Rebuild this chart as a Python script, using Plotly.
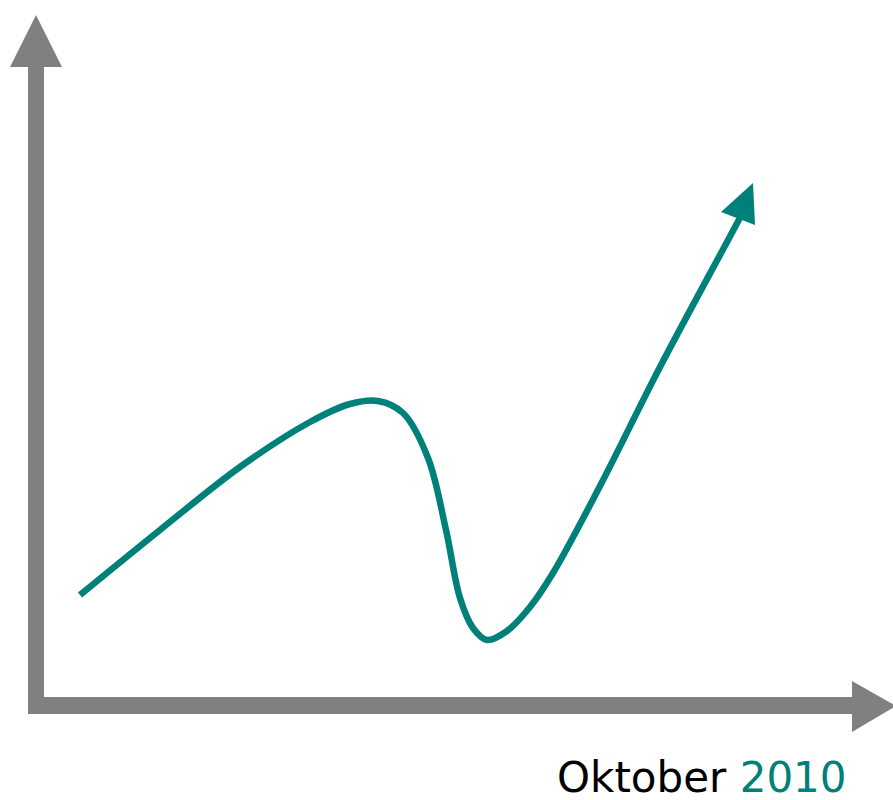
import plotly.graph_objects as go

# Curve (pixel-like coordinates, y grows downward)
curve_x = [80, 160, 240, 310, 350, 378, 403, 428, 446, 460, 473, 487, 507, 530, 553, 600, 660, 727, 742]
curve_y = [595, 530, 467, 422, 404, 401, 413, 458, 530, 598, 628, 640, 631, 607, 573, 486, 367, 242, 214]

# Teal arrow head
head_x = [753, 721, 755]
head_y = [183, 212, 225]

# Gray axes
yaxis_shaft_x = [28, 44]
yaxis_shaft_y = [60, 714]
yaxis_head_x = [36, 10, 62]
yaxis_head_y = [15, 67, 67]
xaxis_shaft_x = [28, 856]
xaxis_shaft_y = [697, 714]
xaxis_head_x = [896, 852, 852]
xaxis_head_y = [706, 681, 732]

label_text = "Oktober "
label_year = "2010"

TEAL = "#00807A"
GRAY = "#808080"

fig = go.Figure()

def tri_path(xs, ys):
    return f"M {xs[0]},{ys[0]} L {xs[1]},{ys[1]} L {xs[2]},{ys[2]} Z"

shapes = [
    dict(type="rect", xref="x", yref="y", x0=yaxis_shaft_x[0], x1=yaxis_shaft_x[1],
         y0=yaxis_shaft_y[0], y1=yaxis_shaft_y[1], fillcolor=GRAY, line=dict(width=0)),
    dict(type="path", xref="x", yref="y", path=tri_path(yaxis_head_x, yaxis_head_y),
         fillcolor=GRAY, line=dict(width=0)),
    dict(type="rect", xref="x", yref="y", x0=xaxis_shaft_x[0], x1=xaxis_shaft_x[1],
         y0=xaxis_shaft_y[0], y1=xaxis_shaft_y[1], fillcolor=GRAY, line=dict(width=0)),
    dict(type="path", xref="x", yref="y", path=tri_path(xaxis_head_x, xaxis_head_y),
         fillcolor=GRAY, line=dict(width=0)),
    dict(type="path", xref="x", yref="y", path=tri_path(head_x, head_y),
         fillcolor=TEAL, line=dict(width=0)),
]

fig.add_trace(go.Scatter(x=curve_x, y=curve_y, mode="lines",
                         line=dict(color=TEAL, width=6.5, shape="spline", smoothing=1.0),
                         hoverinfo="skip", showlegend=False))

fig.update_layout(
    width=893, height=800,
    margin=dict(l=0, r=0, t=0, b=0),
    paper_bgcolor="white", plot_bgcolor="white",
    xaxis=dict(range=[0, 893], visible=False, fixedrange=True),
    yaxis=dict(range=[800, 0], visible=False, fixedrange=True),
    shapes=shapes,
    showlegend=False,
    annotations=[dict(
        x=555, y=777, xref="x", yref="y", xanchor="left", yanchor="middle",
        text=f"<span style='color:#000000'>{label_text}</span><span style='color:{TEAL}'>{label_year}</span>",
        showarrow=False, font=dict(family="DejaVu Sans", size=42, color="black"))],
)

fig.write_html("out.html", config={"displayModeBar": False},
               post_script="document.body.style.margin='0';document.body.style.overflow='hidden';")
